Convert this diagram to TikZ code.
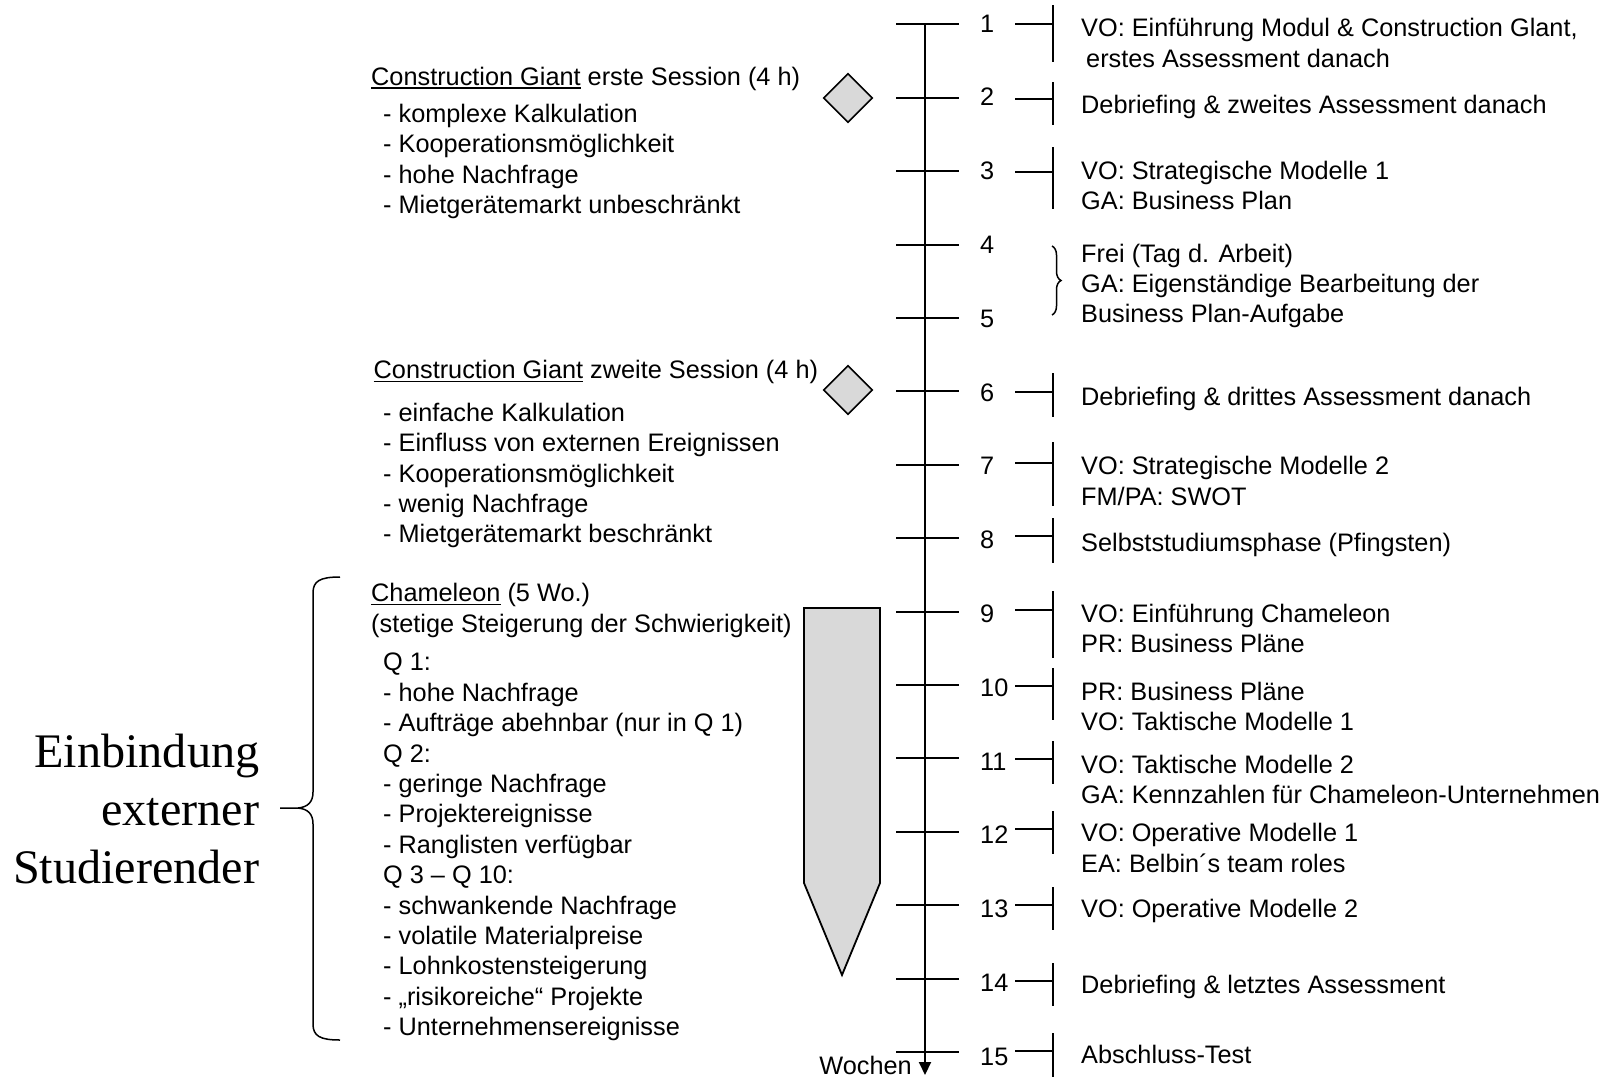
\documentclass[tikz,border=0pt]{standalone}
\usepackage{fontspec}
\setmainfont{Liberation Sans}
\newfontfamily\bigserif{Liberation Serif}
\usetikzlibrary{arrows.meta,shapes.geometric,decorations.pathreplacing}
\definecolor{fillgray}{HTML}{D9D9D9}
\newcommand\ulinetext[1]{\setbox0\hbox{#1}\rlap{\rule[-3.5pt]{\wd0}{1.5pt}}\box0\relax}
\begin{document}
\begin{tikzpicture}[x=1pt,y=-1pt,
  txt/.style={font=\fontsize{25.3}{30.4}\selectfont, inner sep=0pt, anchor=west, align=left},
  num/.style={font=\fontsize{25.3}{30.4}\selectfont, inner sep=0pt, anchor=west},
  bigtxt/.style={font=\bigserif\fontsize{48.2}{58}\selectfont, inner sep=0pt, anchor=east, align=right},
  axisline/.style={line width=2pt, -{Triangle[length=13pt,width=12pt]}},
  tickline/.style={line width=2pt},
  conn/.style={line width=2pt},
  bracel/.style={line width=1.5pt},
  marker/.style={diamond, draw, line width=1.6pt, fill=fillgray, minimum width=49pt, minimum height=49pt, inner sep=0pt},
  pencil/.style={draw, line width=1.8pt, fill=fillgray, line join=miter}
]
\fill[white] (0,0) rectangle (1610,1077);
\useasboundingbox (0,0) rectangle (1610,1077);

% time axis
\coordinate (axtop) at (925,24.3);
\coordinate (axbot) at (925,1075);
\draw[axisline] (axtop) -- (axbot);
\foreach \k in {1,...,15} {
  \pgfmathsetmacro\yy{24.3+(\k-1)*73.4}
  \pgfmathsetmacro\ny{23.3+(\k-1)*73.8}
  \coordinate (tl\k) at (896,\yy);
  \coordinate (tr\k) at (959,\yy);
  \draw[tickline] (tl\k) -- (tr\k);
  \node[num] (n\k) at (980,\ny) {\k};
}
\node[num, anchor=east] (wo) at (912,1065) {Wochen};

% connectors to the weekly texts
\foreach \k/\yy/\t/\b in {1/24.3/5/62, 2/99/82/125, 3/171.7/147/209, 6/391.5/373/417,
  7/463/442/506, 8/536/518/563, 9/609.5/591/658, 10/686/668/720, 11/759/741/784,
  12/829/811/854, 13/905/887/930, 14/981/963/1006, 15/1051/1033/1077} {
  \coordinate (ca\k) at (1015,\yy);
  \coordinate (cb\k) at (1053,\yy);
  \coordinate (bt\k) at (1053,\t);
  \coordinate (bb\k) at (1053,\b);
  \draw[conn] (ca\k) -- (cb\k);
  \draw[conn] (bt\k) -- (bb\k);
}
\coordinate (br4) at (1052,246);
\coordinate (br5) at (1052,315);
\draw[bracel, decorate, decoration={brace, amplitude=9pt}] (br4) -- (br5);

% right texts
\node[txt] (r1) at (1081,43.1) {VO: Einführung Modul \& Construction Glant,\\\hspace*{5pt}erstes Assessment danach};
\node[txt] (r2) at (1081,107.2) {Debriefing \& zweites Assessment danach};
\node[txt] (r3) at (1081,185.3) {VO: Strategische Modelle 1\\GA: Business Plan};
\node[txt] (r4) at (1081,286) {Frei (Tag d. Arbeit)\\GA: Eigenständige Bearbeitung der\\Business Plan-Aufgabe};
\node[txt] (r6) at (1081,399.3) {Debriefing \& drittes Assessment danach};
\node[txt] (r7) at (1081,481.1) {VO: Strategische Modelle 2\\FM/PA: SWOT};
\node[txt] (r8) at (1081,545.2) {Selbststudiumsphase (Pfingsten)};
\node[txt] (r9) at (1081,628.4) {VO: Einführung Chameleon\\PR: Business Pläne};
\node[txt] (r10) at (1081,706.4) {PR: Business Pläne\\VO: Taktische Modelle 1};
\node[txt] (r11) at (1081,779.4) {VO: Taktische Modelle 2\\GA: Kennzahlen für Chameleon-Unternehmen};
\node[txt] (r12) at (1081,848.1) {VO: Operative Modelle 1\\EA: Belbin´s team roles};
\node[txt] (r13) at (1081,911.2) {VO: Operative Modelle 2};
\node[txt] (r14) at (1081,987.2) {Debriefing \& letztes Assessment};
\node[txt] (r15) at (1081,1054.5) {Abschluss-Test};

% markers
\node[marker] (d1) at (848,98) {};
\node[marker] (d2) at (848,390) {};
\draw[pencil] (804,608) -- (880,608) -- (880,883) -- (842,975) -- (804,883) -- cycle;

% left texts
\node[txt] (l1) at (371,78.6) {\ulinetext{Construction Giant} erste Session (4 h)};
\node[txt] (l1i) at (383,161.3) {- komplexe Kalkulation\\- Kooperationsmöglichkeit\\- hohe Nachfrage\\- Mietgerätemarkt unbeschränkt};
\node[txt] (l2) at (373.5,372.2) {\ulinetext{Construction Giant} zweite Session (4 h)};
\node[txt] (l2i) at (383,475.5) {- einfache Kalkulation\\- Einfluss von externen Ereignissen\\- Kooperationsmöglichkeit\\- wenig Nachfrage\\- Mietgerätemarkt beschränkt};
\node[txt] (l3) at (371,610.5) {\ulinetext{Chameleon} (5 Wo.)\\(stetige Steigerung der Schwierigkeit)};
\node[txt] (l3i) at (383,847) {Q 1:\\- hohe Nachfrage\\- Aufträge abehnbar (nur in Q 1)\\Q 2:\\- geringe Nachfrage\\- Projektereignisse\\- Ranglisten verfügbar\\Q 3 – Q 10:\\- schwankende Nachfrage\\- volatile Materialpreise\\- Lohnkostensteigerung\\- „risikoreiche“ Projekte\\- Unternehmensereignisse};

% external students
\node[bigtxt] (ext) at (259.5,809) {Einbindung\\externer\\Studierender};
\coordinate (bctop) at (340,577);
\coordinate (bcbot) at (340,1040);
\coordinate (bctip) at (280,808);
\draw[bracel] (bctop) .. controls (320,577) and (313,581) .. (313,593) -- (313,792)
  .. controls (313,802) and (308,807) .. (298,808) -- (bctip);
\draw[bracel] (298,808) .. controls (308,809) and (313,814) .. (313,824) -- (313,1024)
  .. controls (313,1036) and (320,1040) .. (bcbot);
\end{tikzpicture}
\end{document}
